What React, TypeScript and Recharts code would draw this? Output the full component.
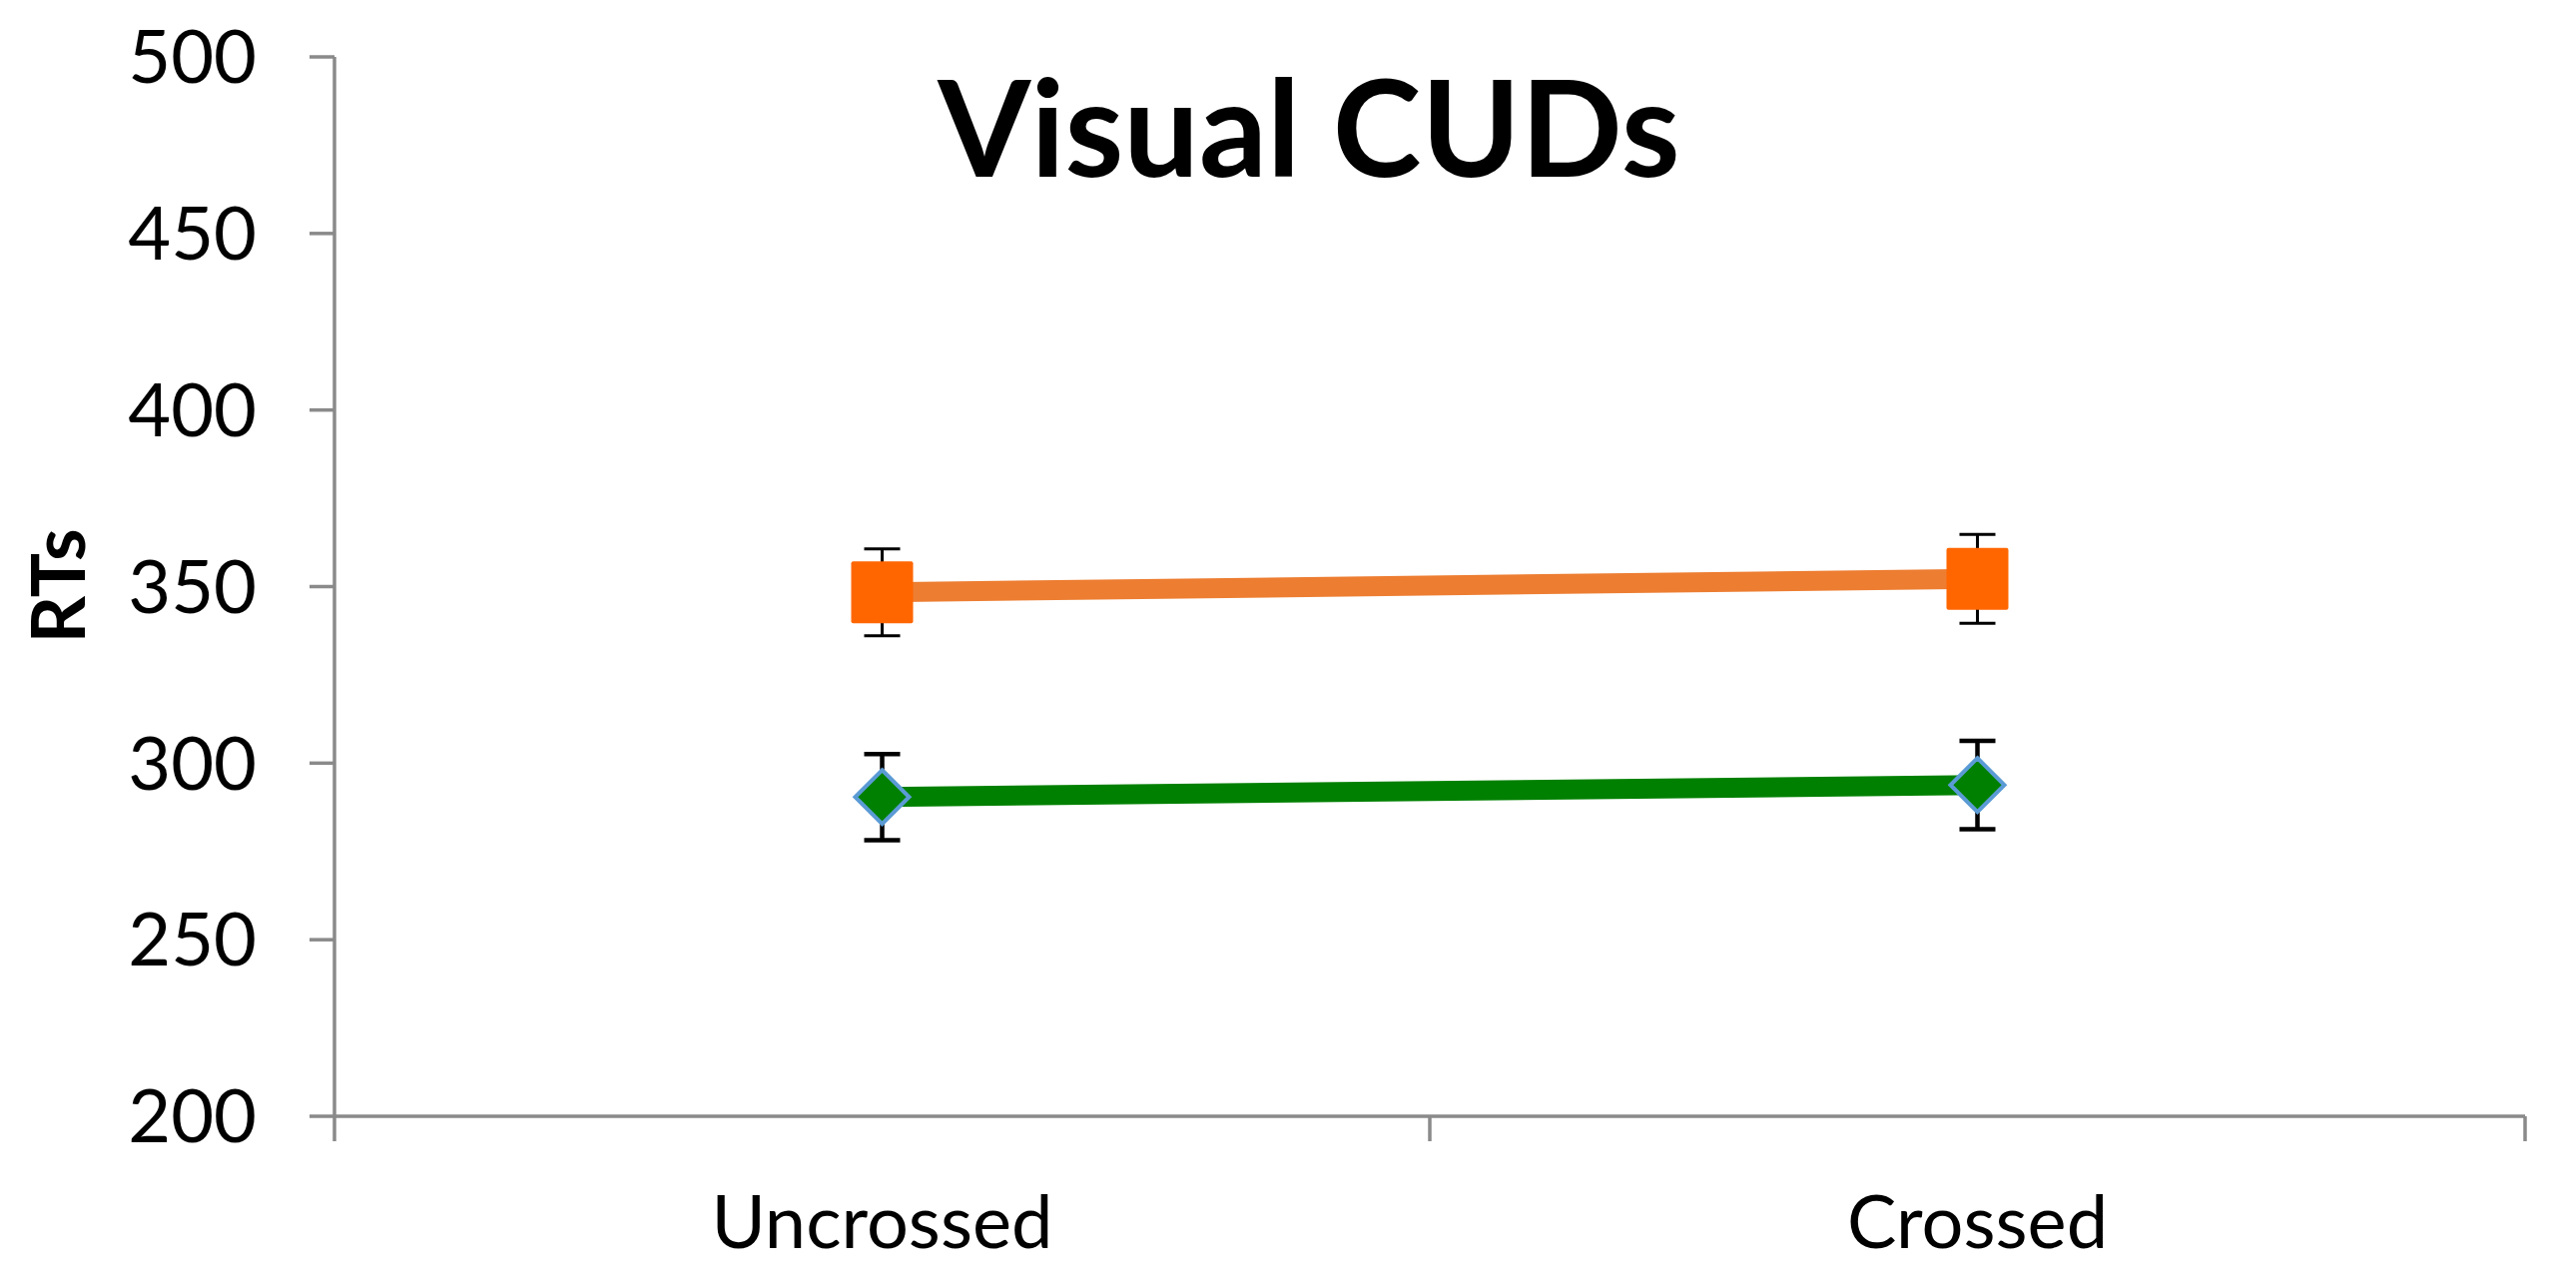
import React from "react";
import { ErrorBar, Line, LineChart, XAxis, YAxis } from "recharts";

const conditions = ["Uncrossed", "Crossed"];
const orangeRT = [348.4, 352.2];
const orangeErr = [12.3, 12.6];
const greenRT = [290.4, 293.8];
const greenErr = [12.2, 12.5];
const yTicks = [200, 250, 300, 350, 400, 450, 500];

const data = conditions.map((name, i) => ({
  name,
  orange: orangeRT[i],
  orangeErr: orangeErr[i],
  green: greenRT[i],
  greenErr: greenErr[i],
}));

const W = 2580;
const H = 1288;
const FONT = "Lato, 'Open Sans', sans-serif";
const AXIS = "#8a8a8a";
const TICK_LEN = 25;
const TICK_GAP = 54;

// category label centred in its band, with tick marks on the band edges
function CategoryTick(props: any) {
  const { x, y, payload, index, visibleTicksCount } = props;
  const half = payload.offset ?? 0;
  const top = y - TICK_GAP - TICK_LEN;
  const bottom = y - TICK_GAP;
  return (
    <g>
      <line x1={x - half} x2={x - half} y1={top} y2={bottom} stroke={AXIS} strokeWidth={3.5} />
      {index === visibleTicksCount - 1 && (
        <line x1={x + half} x2={x + half} y1={top} y2={bottom} stroke={AXIS} strokeWidth={3.5} />
      )}
      <text x={x} y={y} dy="0.71em" textAnchor="middle" fontSize={74} fontFamily={FONT} fill="#000">
        {payload.value}
      </text>
    </g>
  );
}

function SquareDot(props: any) {
  const { cx, cy, index } = props;
  const s = 62;
  return <rect key={`sq-${index}`} x={cx - s / 2} y={cy - s / 2} width={s} height={s} rx={2} fill="#FF6600" />;
}

function DiamondDot(props: any) {
  const { cx, cy, index } = props;
  const r = 27;
  const pts = `${cx},${cy - r} ${cx + r},${cy} ${cx},${cy + r} ${cx - r},${cy}`;
  return <polygon key={`dm-${index}`} points={pts} fill="#008000" stroke="#5B9BD5" strokeWidth={4} />;
}

export default function App() {
  return (
    <div style={{ position: "relative", width: W, height: H, background: "#fff" }}>
      <style>{`body{margin:0}`}</style>
      <LineChart width={W} height={H} data={data} margin={{ top: 57, right: 51, bottom: 0, left: 0 }}>
        <XAxis
          dataKey="name"
          scale="band"
          height={170}
          axisLine={{ stroke: AXIS, strokeWidth: 3.5 }}
          tickLine={false}
          tickSize={TICK_LEN}
          tickMargin={TICK_GAP}
          tick={<CategoryTick />}
          interval={0}
        />
        <YAxis
          width={335}
          domain={[200, 500]}
          ticks={yTicks}
          allowDataOverflow
          axisLine={{ stroke: AXIS, strokeWidth: 3.5 }}
          tickLine={{ stroke: AXIS, strokeWidth: 3.5 }}
          tickSize={TICK_LEN}
          tickMargin={53}
          tick={{ fill: "#000", fontSize: 74, fontFamily: FONT }}
        />
        <Line
          dataKey="orange"
          stroke="#ED7D31"
          strokeWidth={20}
          dot={SquareDot}
          activeDot={false}
          isAnimationActive={false}
        >
          <ErrorBar dataKey="orangeErr" direction="y" width={18} stroke="#000" strokeWidth={3} />
        </Line>
        <Line
          dataKey="green"
          stroke="#008000"
          strokeWidth={20}
          dot={DiamondDot}
          activeDot={false}
          isAnimationActive={false}
        >
          <ErrorBar dataKey="greenErr" direction="y" width={18} stroke="#000" strokeWidth={4.5} />
        </Line>
      </LineChart>
      <svg width={W} height={H} style={{ position: "absolute", left: 0, top: 0, pointerEvents: "none" }}>
        <text x={1311} y={177} textAnchor="middle" fontSize={134} fontWeight={700} fontFamily={FONT} fill="#000">
          Visual CUDs
        </text>
        <text
          x={0}
          y={0}
          transform="translate(85, 587) rotate(-90)"
          textAnchor="middle"
          fontSize={74}
          fontWeight={700}
          fontFamily={FONT}
          fill="#000"
        >
          RTs
        </text>
      </svg>
    </div>
  );
}
